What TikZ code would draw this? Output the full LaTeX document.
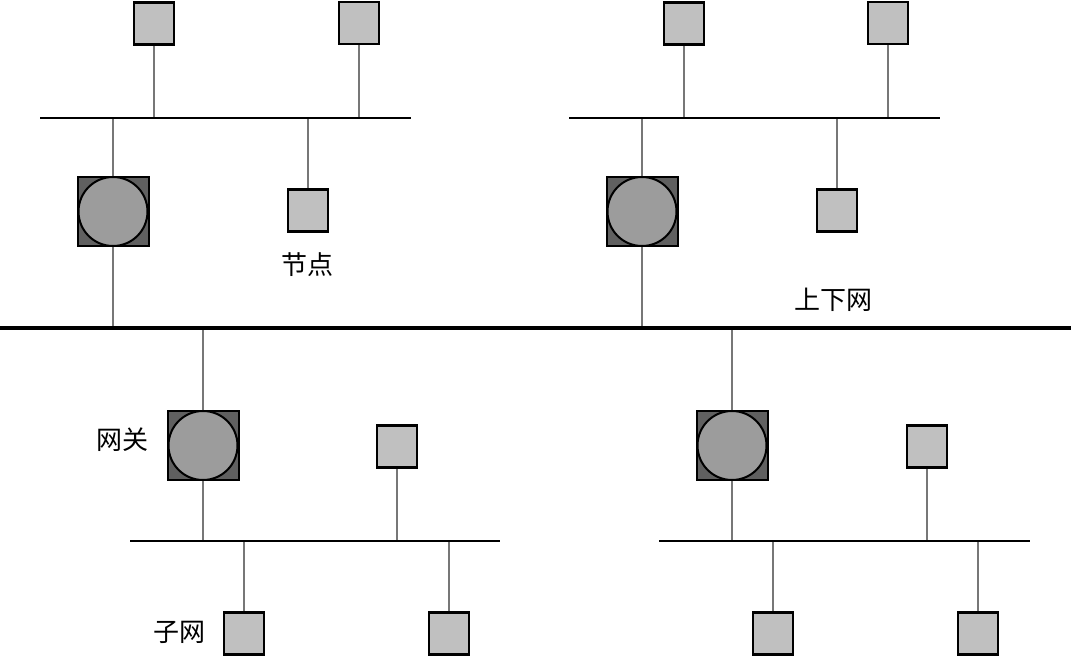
\documentclass[tikz,border=0pt]{standalone}
\usepackage{fontspec}
\newfontfamily\cjk{Noto Sans CJK SC}
\begin{document}
\begin{tikzpicture}[x=1pt,y=-1pt,
  nodebox/.style={draw=black,line width=2.6pt,fill=nodegray,minimum width=40pt,minimum height=42pt,inner sep=0pt},
  gwbox/.style={draw=black,line width=2pt,fill=gwdark,minimum width=71pt,minimum height=69pt,inner sep=0pt},
  gwcirc/.style={draw=black,line width=2pt,fill=gwlight,circle,minimum size=69pt,inner sep=0pt},
  bus/.style={draw=black,line width=2pt},
  stem/.style={draw=stemgray,line width=2.6pt},
  backbone/.style={draw=black,line width=4.5pt},
  lbl/.style={font=\cjk\fontsize{26}{26}\selectfont,inner sep=0pt}
]
\definecolor{nodegray}{HTML}{C0C0C0}
\definecolor{gwdark}{HTML}{606060}
\definecolor{gwlight}{HTML}{9C9C9C}
\definecolor{stemgray}{HTML}{777777}
\useasboundingbox (0,0) rectangle (1071,658);
% backbone
\coordinate (bbL) at (0,328);
\coordinate (bbR) at (1071,328);
% ---------- top-left subnet ----------
\coordinate (b1L) at (40,118);
\coordinate (b1R) at (411,118);
\node[nodebox] (t1a) at (154,23.5) {};
\node[nodebox] (t1b) at (359,23) {};
\node[nodebox] (t1c) at (308,210.5) {};
\node[gwbox] (g1s) at (113,211.5) {};
\node[gwcirc] (g1) at (113,211.5) {};
% ---------- top-right subnet ----------
\coordinate (b2L) at (569,118);
\coordinate (b2R) at (940,118);
\node[nodebox] (t2a) at (684,23.5) {};
\node[nodebox] (t2b) at (888,23) {};
\node[nodebox] (t2c) at (837,210.5) {};
\node[gwbox] (g2s) at (642,211.5) {};
\node[gwcirc] (g2) at (642,211.5) {};
% ---------- bottom-left subnet ----------
\coordinate (b3L) at (130,541);
\coordinate (b3R) at (500,541);
\node[nodebox] (s1a) at (397,446.5) {};
\node[nodebox] (s1b) at (244,633.5) {};
\node[nodebox] (s1c) at (449,633.5) {};
\node[gwbox] (g3s) at (203,445.5) {};
\node[gwcirc] (g3) at (203,445.5) {};
% ---------- bottom-right subnet ----------
\coordinate (b4L) at (659,541);
\coordinate (b4R) at (1030,541);
\node[nodebox] (s2a) at (927,446.5) {};
\node[nodebox] (s2b) at (773,633.5) {};
\node[nodebox] (s2c) at (978,633.5) {};
\node[gwbox] (g4s) at (732,445.5) {};
\node[gwcirc] (g4) at (732,445.5) {};
% ---------- stems ----------
\path[stem] (t1a.south) -- (t1a.south |- b1L)
  (t1b.south) -- (t1b.south |- b1L)
  (t1c.north) -- (t1c.north |- b1L)
  (g1s.north) -- (g1s.north |- b1L)
  (g1s.south) -- (g1s.south |- bbL)
  (t2a.south) -- (t2a.south |- b2L)
  (t2b.south) -- (t2b.south |- b2L)
  (t2c.north) -- (t2c.north |- b2L)
  (g2s.north) -- (g2s.north |- b2L)
  (g2s.south) -- (g2s.south |- bbL)
  (s1a.south) -- (s1a.south |- b3L)
  (s1b.north) -- (s1b.north |- b3L)
  (s1c.north) -- (s1c.north |- b3L)
  (g3s.north) -- (g3s.north |- bbL)
  (g3s.south) -- (g3s.south |- b3L)
  (s2a.south) -- (s2a.south |- b4L)
  (s2b.north) -- (s2b.north |- b4L)
  (s2c.north) -- (s2c.north |- b4L)
  (g4s.north) -- (g4s.north |- bbL)
  (g4s.south) -- (g4s.south |- b4L);
% buses
\path[bus] (b1L) -- (b1R) (b2L) -- (b2R) (b3L) -- (b3R) (b4L) -- (b4R);
\path[backbone] (bbL) -- (bbR);
% labels
\node[lbl] (l1) at (307,265) {节点};
\node[lbl] (l2) at (833,300) {上下网};
\node[lbl] (l3) at (122,440) {网关};
\node[lbl] (l4) at (179,632) {子网};
\end{tikzpicture}
\end{document}
